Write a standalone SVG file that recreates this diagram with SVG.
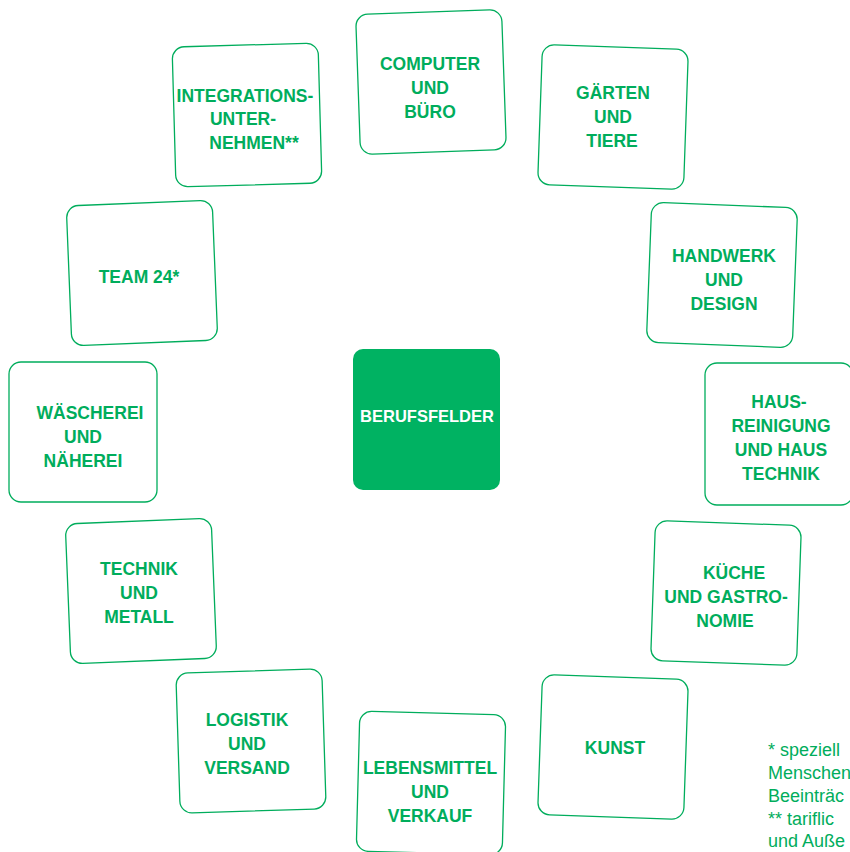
<svg xmlns="http://www.w3.org/2000/svg" width="850" height="852" viewBox="0 0 850 852">
<style>
.card{fill:#fff;stroke:#00ad5c;stroke-width:1.3}
.lbl{font-family:"Liberation Sans",Arial,sans-serif;font-weight:bold;font-size:17.5px;fill:#00ad5c;text-anchor:middle}
.hub{fill:#00b262}
.hubt{font-family:"Liberation Sans",Arial,sans-serif;font-weight:bold;font-size:16.5px;fill:#fff;text-anchor:middle}
.note{font-family:"Liberation Sans",Arial,sans-serif;font-size:18px;fill:#00ad5c}
</style>
<rect width="850" height="852" fill="#fff"/>
<g id="connectors"/>
<g id="hub">
<rect class="hub" x="353" y="349" width="147" height="141" rx="10"/>
<text class="hubt" x="427" y="422">BERUFSFELDER</text>
</g>
<g id="integrationsunternehmen">
<rect class="card" x="174" y="45" width="146" height="140" rx="12" transform="rotate(-1.6 247 115)"/>
<text class="lbl" x="245" y="102">INTEGRATIONS-</text>
<text class="lbl" x="243" y="125">UNTER-</text>
<text class="lbl" x="254" y="149">NEHMEN**</text>
</g>
<g id="computer">
<rect class="card" x="358" y="12" width="146" height="140" rx="12" transform="rotate(-2 431 82)"/>
<text class="lbl" x="430" y="70">COMPUTER</text>
<text class="lbl" x="430" y="94">UND</text>
<text class="lbl" x="430" y="118">BÜRO</text>
</g>
<g id="gaerten">
<rect class="card" x="540" y="47" width="146" height="140" rx="12" transform="rotate(2 613 117)"/>
<text class="lbl" x="613" y="99">GÄRTEN</text>
<text class="lbl" x="613" y="123">UND</text>
<text class="lbl" x="612" y="147">TIERE</text>
</g>
<g id="handwerk">
<rect class="card" x="649" y="205" width="146" height="140" rx="12" transform="rotate(2.2 722 275)"/>
<text class="lbl" x="724" y="262">HANDWERK</text>
<text class="lbl" x="724" y="286">UND</text>
<text class="lbl" x="724" y="310">DESIGN</text>
</g>
<g id="hausreinigung">
<rect class="card" x="705" y="363" width="148" height="142" rx="12"/>
<text class="lbl" x="779" y="408">HAUS-</text>
<text class="lbl" x="781" y="432">REINIGUNG</text>
<text class="lbl" x="781" y="456">UND HAUS</text>
<text class="lbl" x="781" y="480">TECHNIK</text>
</g>
<g id="kueche">
<rect class="card" x="653" y="523" width="146" height="140" rx="12" transform="rotate(2 726 593)"/>
<text class="lbl" x="734" y="579">KÜCHE</text>
<text class="lbl" x="726" y="603">UND GASTRO-</text>
<text class="lbl" x="725" y="627">NOMIE</text>
</g>
<g id="kunst">
<rect class="card" x="540" y="677" width="146" height="140" rx="12" transform="rotate(2 613 747)"/>
<text class="lbl" x="615" y="754">KUNST</text>
</g>
<g id="lebensmittel">
<rect class="card" x="358" y="713" width="146" height="140" rx="12" transform="rotate(1.5 431 783)"/>
<text class="lbl" x="430" y="774">LEBENSMITTEL</text>
<text class="lbl" x="430" y="798">UND</text>
<text class="lbl" x="430" y="822">VERKAUF</text>
</g>
<g id="logistik">
<rect class="card" x="178" y="671" width="146" height="140" rx="12" transform="rotate(-1.8 251 741)"/>
<text class="lbl" x="247" y="726">LOGISTIK</text>
<text class="lbl" x="247" y="750">UND</text>
<text class="lbl" x="247" y="774">VERSAND</text>
</g>
<g id="technik">
<rect class="card" x="68" y="521" width="146" height="140" rx="12" transform="rotate(-2.3 141 591)"/>
<text class="lbl" x="139" y="575">TECHNIK</text>
<text class="lbl" x="139" y="599">UND</text>
<text class="lbl" x="139" y="623">METALL</text>
</g>
<g id="waescherei">
<rect class="card" x="9" y="362" width="148" height="140" rx="12"/>
<text class="lbl" x="90" y="419">WÄSCHEREI</text>
<text class="lbl" x="83" y="443">UND</text>
<text class="lbl" x="83" y="467">NÄHEREI</text>
</g>
<g id="team24">
<rect class="card" x="69" y="203" width="146" height="140" rx="12" transform="rotate(-2.3 142 273)"/>
<text class="lbl" x="139" y="283">TEAM 24*</text>
</g>
<g id="footnote">
<text class="note" x="768" y="756">* speziell</text>
<text class="note" x="768" y="779">Menschen</text>
<text class="note" x="768" y="802">Beeinträc</text>
<text class="note" x="768" y="825">** tariflic</text>
<text class="note" x="768" y="847">und Auße</text>
</g>
</svg>
